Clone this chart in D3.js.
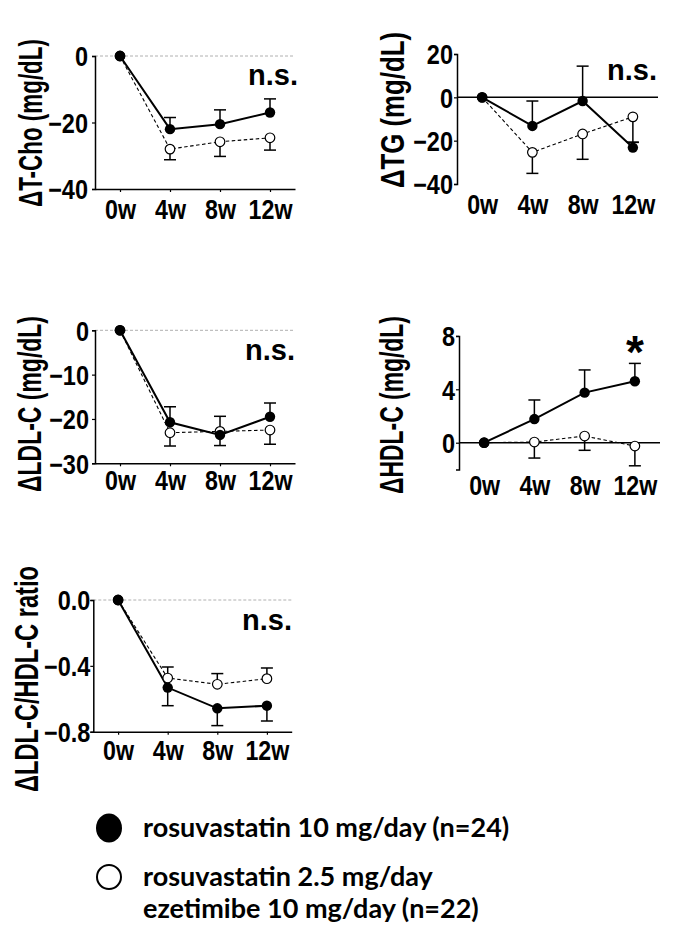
<!DOCTYPE html>
<html>
<head>
<meta charset="utf-8">
<script src="https://cdn.jsdelivr.net/npm/d3@7"></script>
<style>
  html, body { margin: 0; padding: 0; background: #fff; }
  svg { display: block; }
  .tick text { font-family: "Liberation Sans", Arial, sans-serif; font-weight: bold; fill: #000; }
</style>
</head>
<body>
<svg id="chart" width="685" height="929"></svg>
<script>
// ---------------- data ----------------
const weeks = ["0w", "4w", "8w", "12w"];

// rosuvastatin 10 mg/day (filled) and rosuvastatin 2.5 + ezetimibe (open)
const tchoRosu10   = [0, -22.0, -20.5, -17.0];
const tchoRosu10SE = [0, 3.5, 4.3, 4.1];
const tchoCombo    = [0, -28.0, -25.8, -24.6];
const tchoComboSE  = [0, 3.2, 4.4, 3.7];
const tchoTicks    = [0, -20, -40];

const tgRosu10   = [0, -13.2, -1.7, -23.2];
const tgRosu10SE = [0, 11.5, 16.1, 2.5];
const tgCombo    = [0, -25.4, -16.9, -9.0];
const tgComboSE  = [0, 9.7, 11.7, 11.8];
const tgTicks    = [20, 0, -20, -40];

const ldlRosu10   = [0, -20.75, -23.6, -19.5];
const ldlRosu10SE = [0, 3.5, 4.2, 3.1];
const ldlCombo    = [0, -23.1, -22.8, -22.5];
const ldlComboSE  = [0, 3.0, 3.2, 3.2];
const ldlTicks    = [0, -10, -20, -30];

const hdlRosu10   = [0, 1.77, 3.75, 4.6];
const hdlRosu10SE = [0, 1.43, 1.7, 1.34];
const hdlCombo    = [0, 0.05, 0.5, -0.25];
const hdlComboSE  = [0, 1.2, 1.07, 1.48];
const hdlTicks    = [8, 4, 0];

const ratioRosu10   = [0, -0.532, -0.658, -0.642];
const ratioRosu10SE = [0, 0.11, 0.105, 0.093];
const ratioCombo    = [0, -0.474, -0.512, -0.478];
const ratioComboSE  = [0, 0.067, 0.065, 0.065];
const ratioTicks    = [0.0, -0.4, -0.8];

const legendLabels = [
  ["rosuvastatin 10 mg/day (n=24)"],
  ["rosuvastatin 2.5 mg/day", "ezetimibe 10 mg/day (n=22)"]
];

// ---------------- layout ----------------
const FONT = '"Liberation Sans", Arial, Helvetica, sans-serif';
const svg = d3.select("#chart");

const panels = [
  { label: "\u0394T-Cho (mg/dL)", hi: tchoRosu10, hiSE: tchoRosu10SE, lo: tchoCombo, loSE: tchoComboSE,
    ticks: tchoTicks, domain: [-40, 0], x0: 95, x1: 295, yBot: 189, yTop: 56, fmt: d3.format("d"),
    zero: "dash", hiDir: 1, note: "n.s.", noteX: 273, noteY: 85, ytPad: 4, xtPad: 8,
    labX: 42, labCY: 123, labLen: 168 },
  { label: "\u0394TG (mg/dL)", hi: tgRosu10, hiSE: tgRosu10SE, lo: tgCombo, loSE: tgComboSE,
    ticks: tgTicks, domain: [-40, 20], x0: 457, x1: 658, yBot: 184, yTop: 54, fmt: d3.format("d"),
    zero: "solid", hiDir: 1, note: "n.s.", noteX: 632, noteY: 80, ytPad: 1, xtPad: 11,
    labX: 404, labCY: 110, labLen: 156 },
  { label: "\u0394LDL-C (mg/dL)", hi: ldlRosu10, hiSE: ldlRosu10SE, lo: ldlCombo, loSE: ldlComboSE,
    ticks: ldlTicks, domain: [-30, 0], x0: 95, x1: 295, yBot: 463.3, yTop: 330.3, fmt: d3.format("d"),
    zero: "dash", hiDir: 1, note: "n.s.", noteX: 270, noteY: 360, ytPad: 3, xtPad: 5,
    labX: 41, labCY: 404, labLen: 176 },
  { label: "\u0394HDL-C (mg/dL)", hi: hdlRosu10, hiSE: hdlRosu10SE, lo: hdlCombo, loSE: hdlComboSE,
    ticks: hdlTicks, domain: [-2, 8], x0: 459, x1: 660, yBot: 469.4, yTop: 335.9, fmt: d3.format("d"),
    zero: "solid", hiDir: 1, note: "*", noteX: 635, noteY: 368, noteSize: 46, ytPad: 1, xtPad: 6,
    labX: 403, labCY: 405, labLen: 178 },
  { label: "\u0394LDL-C/HDL-C ratio", hi: ratioRosu10, hiSE: ratioRosu10SE, lo: ratioCombo, loSE: ratioComboSE,
    ticks: ratioTicks, domain: [-0.8, 0], x0: 93.3, x1: 291.7, yBot: 731.7, yTop: 600, fmt: d3.format(".1f"),
    zero: "dash", hiDir: -1, note: "n.s.", noteX: 267, noteY: 630, ytPad: 0, xtPad: 6,
    labX: 38, labCY: 679, labLen: 226 }
];

function condense(sel, k) {
  sel.each(function () {
    const L = this.getComputedTextLength();
    d3.select(this).attr("textLength", L * k).attr("lengthAdjust", "spacingAndGlyphs");
  });
}

panels.forEach(p => {
  const g = svg.append("g");
  const x = d3.scalePoint().domain(weeks).range([p.x0, p.x1]).padding(0.5);
  const y = d3.scaleLinear().domain(p.domain).range([p.yBot, p.yTop]);

  // zero reference line
  if (p.zero === "dash") {
    g.append("line").attr("x1", p.x0).attr("x2", p.x1).attr("y1", y(0)).attr("y2", y(0))
      .attr("stroke", "#b0b0b0").attr("stroke-width", 1).attr("stroke-dasharray", "3,2");
  } else {
    g.append("line").attr("x1", p.x0).attr("x2", p.x1).attr("y1", y(0)).attr("y2", y(0))
      .attr("stroke", "#000").attr("stroke-width", 1.5);
  }

  // y axis
  const ya = g.append("g").attr("transform", `translate(${p.x0},0)`)
    .call(d3.axisLeft(y).tickValues(p.ticks).tickFormat(p.fmt).tickSize(3).tickPadding(p.ytPad));
  ya.select(".domain").attr("stroke", "#000").attr("stroke-width", 1.5);
  ya.selectAll(".tick line").attr("stroke", "#000").attr("stroke-width", 1.2);
  ya.selectAll(".tick text").style("font-size", "27px").attr("dy", "0.36em");
  condense(ya.selectAll(".tick text"), 0.87);

  // x axis
  const xa = g.append("g").attr("transform", `translate(0,${p.yBot})`)
    .call(d3.axisBottom(x).tickSize(p.zero === "dash" ? 3 : 0).tickPadding(p.xtPad).tickSizeOuter(0));
  xa.selectAll(".tick text").style("font-size", "27px");
  condense(xa.selectAll(".tick text"), 0.86);
  if (p.zero === "dash") {
    xa.select(".domain").attr("stroke", "#000").attr("stroke-width", 1.5);
    xa.selectAll(".tick line").attr("stroke", "#000").attr("stroke-width", 1.2);
  } else {
    xa.select(".domain").remove();
    xa.selectAll(".tick line").remove();
  }

  // y label (condensed via a horizontal scale along the text direction)
  const lab = g.append("text")
    .attr("text-anchor", "middle")
    .style("font-family", FONT).style("font-weight", "bold").style("font-size", "33px")
    .text(p.label);
  const natural = lab.node().getComputedTextLength();
  lab.attr("transform", `translate(${p.labX},${p.labCY}) rotate(-90) scale(${p.labLen / natural},1)`);

  // lines
  const line = d3.line().x((d, i) => x(weeks[i])).y(d => y(d));
  g.append("path").datum(p.lo).attr("d", line).attr("fill", "none")
    .attr("stroke", "#000").attr("stroke-width", 1.1).attr("stroke-dasharray", "3.5,2.5");
  g.append("path").datum(p.hi).attr("d", line).attr("fill", "none")
    .attr("stroke", "#000").attr("stroke-width", 2);

  // error bars
  const capW = 6;
  function errBars(vals, ses, dir) {
    vals.forEach((v, i) => {
      if (!ses[i]) return;
      const cx = x(weeks[i]);
      const ye = y(v + dir * ses[i]);
      g.append("line").attr("x1", cx).attr("x2", cx).attr("y1", y(v)).attr("y2", ye)
        .attr("stroke", "#000").attr("stroke-width", 1.5);
      g.append("line").attr("x1", cx - capW).attr("x2", cx + capW).attr("y1", ye).attr("y2", ye)
        .attr("stroke", "#000").attr("stroke-width", 1.5);
    });
  }
  errBars(p.hi, p.hiSE, p.hiDir);
  errBars(p.lo, p.loSE, -p.hiDir);

  // markers
  g.selectAll(".lo").data(p.lo).enter().append("circle")
    .attr("cx", (d, i) => x(weeks[i])).attr("cy", d => y(d)).attr("r", 4.8)
    .attr("fill", "#fff").attr("stroke", "#000").attr("stroke-width", 1.2);
  g.selectAll(".hi").data(p.hi).enter().append("circle")
    .attr("cx", (d, i) => x(weeks[i])).attr("cy", d => y(d)).attr("r", 5.2)
    .attr("fill", "#000");

  // annotation
  g.append("text").attr("x", p.noteX).attr("y", p.noteY).attr("text-anchor", "middle")
    .style("font-family", FONT).style("font-weight", "bold")
    .style("font-size", (p.noteSize || 29) + "px").text(p.note);
});

// ---------------- legend ----------------
const LFONT = 'Lato, "Open Sans", sans-serif';
const lg = svg.append("g");
lg.append("ellipse").attr("cx", 109).attr("cy", 828).attr("rx", 13).attr("ry", 14.5).attr("fill", "#000");
lg.append("circle").attr("cx", 109).attr("cy", 877).attr("r", 12)
  .attr("fill", "#fff").attr("stroke", "#000").attr("stroke-width", 2);
const legendBaselines = [[837], [886, 918]];
legendLabels.forEach((lines, k) => {
  lines.forEach((t, j) => {
    lg.append("text").attr("x", 143).attr("y", legendBaselines[k][j])
      .style("font-family", LFONT).style("font-weight", "bold").style("font-size", "27px")
      .attr("fill", "#000").text(t);
  });
});
</script>
</body>
</html>
